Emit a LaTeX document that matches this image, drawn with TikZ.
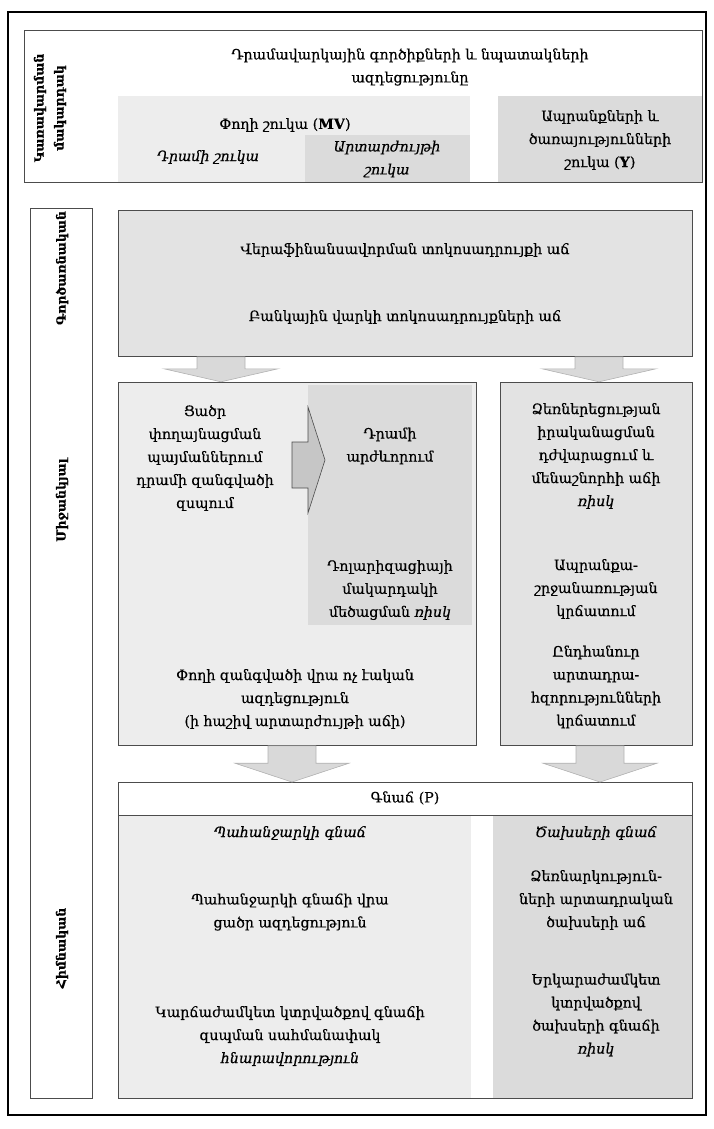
\documentclass[tikz,border=0pt]{standalone}
\usepackage{fontspec}
\setmainfont{DejaVu Serif}[FakeBold=0.4]
\usepackage{tikz}
\usetikzlibrary{calc}
\definecolor{boxline}{gray}{0.3}
\definecolor{paleGr}{gray}{0.93}
\definecolor{midGr}{gray}{0.89}
\definecolor{deepGr}{gray}{0.86}

\begin{document}
\begin{tikzpicture}[x=1pt,y=-1pt,
  box/.style={draw=boxline,line width=0.8pt,anchor=north west,inner sep=0pt},
  shade/.style={draw=none,anchor=north west,inner sep=0pt},
  txt/.style={align=center,inner sep=0pt,font=\fontsize{14.2}{23}\selectfont},
  side/.style={align=center,inner sep=0pt,rotate=90,font=\bfseries\fontsize{12.5}{20}\selectfont},
  blockdn/.pic={\filldraw[fill=gray!30,draw=gray!60,line width=0.6pt]
    (-24,0) -- (24,0) -- (24,12) -- (57,12) -- (0,25) -- (-57,12) -- (-24,12) -- cycle;}]
  \useasboundingbox (0,0) rectangle (714,1129);
  \draw[line width=1.1pt] (8,12) rectangle (706,1115);

  % header
  \node[shade,fill=paleGr,minimum width=352,minimum height=86] (hdrMV) at (118,96) {};
  \node[shade,fill=deepGr,minimum width=165,minimum height=47] (hdrFx) at (305,135) {};
  \node[shade,fill=deepGr,minimum width=204,minimum height=86] (hdrY) at (498,96) {};
  \node[box,minimum width=678,minimum height=152] (hdr) at (24,30) {};
  \node[side] (lvlHdr) at (50,108) {Կառավարման\\մակարդակ};
  \node[txt] (goal) at (410,67) {Դրամավարկային գործիքների և նպատակների\\ազդեցությունը};
  \node[txt] (mv) at (285,125) {Փողի շուկա (\textbf{MV})};
  \node[txt,font=\itshape\fontsize{14.2}{23}\selectfont] (amd) at (208,157) {Դրամի շուկա};
  \node[txt,font=\itshape\fontsize{14.2}{23}\selectfont] (fx) at (387,159) {Արտարժույթի\\շուկա};
  \node[txt] (goods) at (600,140) {Ապրանքների և\\ծառայությունների\\շուկա (\textbf{Y})};

  % levels
  \node[box,fill=white,minimum width=62,minimum height=890] (lvl) at (30,208) {};
  \node[side] (lvlOp) at (62,268) {Գործառնական};
  \node[side] (lvlMid) at (62,500) {Միջանկյալ};
  \node[side] (lvlFin) at (62,948) {Հիմնական};

  % operational
  \node[box,fill=midGr,minimum width=574,minimum height=146] (op) at (118,210) {};
  \node[txt] (refi) at (405,250) {Վերաֆինանսավորման տոկոսադրույքի աճ};
  \node[txt] (loan) at (405,317) {Բանկային վարկի տոկոսադրույքների աճ};

  % intermediate
  \node[box,fill=paleGr,minimum width=358,minimum height=363] (midL) at (118,382) {};
  \node[shade,fill=deepGr,minimum width=164,minimum height=240] (midLdark) at (308,385) {};
  \node[box,fill=midGr,minimum width=192,minimum height=363] (midR) at (500,382) {};
  \filldraw[fill=gray!45,draw=boxline,line width=0.6pt]
    ($(midLdark.north west)+(-16,57)$) -- ++(16,0) -- ++(0,-35) -- ++(17,53)
    -- ++(-17,53) -- ++(0,-25) -- ++(-16,0) -- cycle;
  \node[txt] (squeeze) at (205,458) {Ցածր\\փողայնացման\\պայմաններում\\դրամի զանգվածի\\զսպում};
  \node[txt] (apprec) at (390,446) {Դրամի\\արժևորում};
  \node[txt] (dollar) at (390,590) {Դոլարիզացիայի\\մակարդակի\\մեծացման \textit{ռիսկ}};
  \node[txt] (mass) at (295,699) {Փողի զանգվածի վրա ոչ էական\\ազդեցություն\\(ի հաշիվ արտարժույթի աճի)};
  \node[txt] (entre) at (596,456) {Ձեռներեցության\\իրականացման\\դժվարացում և\\մենաշնորհի աճի\\\textit{ռիսկ}};
  \node[txt] (trade) at (596,589) {Ապրանքա-\\շրջանառության\\կրճատում};
  \node[txt] (capac) at (596,687) {Ընդհանուր\\արտադրա-\\հզորությունների\\կրճատում};

  % final
  \node[shade,fill=paleGr,minimum width=353,minimum height=282] (finL) at (118,816) {};
  \node[shade,fill=deepGr,minimum width=199,minimum height=282] (finR) at (493,816) {};
  \node[box,minimum width=574,minimum height=33] (finP) at (118,782) {};
  \node[box,minimum width=574,minimum height=316] (fin) at (118,782) {};
  \node[txt] (infl) at (405,798) {Գնաճ (P)};
  \node[txt,font=\itshape\fontsize{14.2}{23}\selectfont] (dem) at (290,833) {Պահանջարկի գնաճ};
  \node[txt,font=\itshape\fontsize{14.2}{23}\selectfont] (cost) at (596,833) {Ծախսերի գնաճ};
  \node[txt] (demLow) at (290,912) {Պահանջարկի գնաճի վրա\\ցածր ազդեցություն};
  \node[txt] (demShort) at (290,1036) {Կարճաժամկետ կտրվածքով գնաճի\\զսպման սահմանափակ\\\textit{հնարավորություն}};
  \node[txt] (costUp) at (596,900) {Ձեռնարկություն-\\ների արտադրական\\ծախսերի աճ};
  \node[txt] (costLong) at (596,1015) {Երկարաժամկետ\\կտրվածքով\\ծախսերի գնաճի\\\textit{ռիսկ}};

  % arrows
  \pic at ($(op.south west)+(103,0)$) {blockdn};
  \pic at ($(op.south west)+(481,0)$) {blockdn};
  \pic[yscale=1.45] at ($(midL.south west)+(174,0)$) {blockdn};
  \pic[yscale=1.45] at ($(midR.south west)+(100,0)$) {blockdn};
\end{tikzpicture}
\end{document}
